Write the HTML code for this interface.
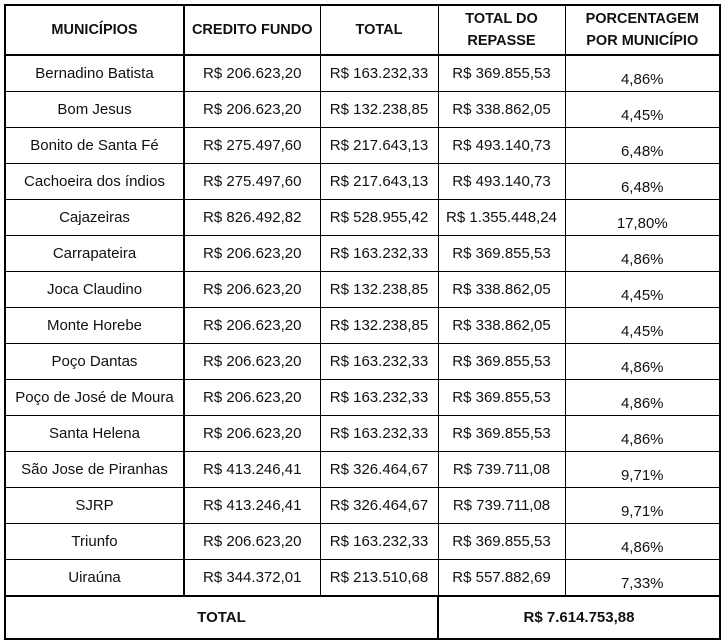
<!DOCTYPE html>
<html><head><meta charset="utf-8"><style>
body{margin:0;background:#fff;width:723px;height:641px;overflow:hidden;font-family:"Liberation Sans",sans-serif;}
table{position:absolute;left:4px;top:4px;border-collapse:collapse;table-layout:fixed;border:2.5px solid #000;}
td,th{border:1px solid #000;text-align:center;font-size:15px;padding:0;color:#111;white-space:nowrap;line-height:17px;}
th{font-weight:bold;font-size:14.5px;height:48px;border-bottom:2.5px solid #000;line-height:22px;}
td{height:35px;}
td.p{vertical-align:bottom;padding-bottom:3px;height:32px;}
tr.tot td{height:41px;border-top:2.5px solid #000;font-weight:bold;}
.c1{border-right:2px solid #000;}
</style></head><body>
<table>
<colgroup><col style="width:179px"><col style="width:136px"><col style="width:118px"><col style="width:127px"><col style="width:155px"></colgroup>
<thead><tr>
<th class="c1">MUNICÍPIOS</th>
<th>CREDITO FUNDO</th>
<th>TOTAL</th>
<th>TOTAL DO<br>REPASSE</th>
<th>PORCENTAGEM<br>POR MUNICÍPIO</th>
</tr></thead>
<tbody id="tb"></tbody>
</table>
<script>
const names=["Bernadino Batista","Bom Jesus","Bonito de Santa Fé","Cachoeira dos índios","Cajazeiras","Carrapateira","Joca Claudino","Monte Horebe","Poço Dantas","Poço de José de Moura","Santa Helena","São Jose de Piranhas","SJRP","Triunfo","Uiraúna"];
const credito=["206.623,20","206.623,20","275.497,60","275.497,60","826.492,82","206.623,20","206.623,20","206.623,20","206.623,20","206.623,20","206.623,20","413.246,41","413.246,41","206.623,20","344.372,01"];
const total=["163.232,33","132.238,85","217.643,13","217.643,13","528.955,42","163.232,33","132.238,85","132.238,85","163.232,33","163.232,33","163.232,33","326.464,67","326.464,67","163.232,33","213.510,68"];
const repasse=["369.855,53","338.862,05","493.140,73","493.140,73","1.355.448,24","369.855,53","338.862,05","338.862,05","369.855,53","369.855,53","369.855,53","739.711,08","739.711,08","369.855,53","557.882,69"];
const pct=["4,86%","4,45%","6,48%","6,48%","17,80%","4,86%","4,45%","4,45%","4,86%","4,86%","4,86%","9,71%","9,71%","4,86%","7,33%"];
const tb=document.getElementById('tb');
names.forEach((n,i)=>{
 const tr=document.createElement('tr');
 
 
 const vals=[n,"R$ "+credito[i],"R$ "+total[i],"R$ "+repasse[i],pct[i]];
 const nm=['municipio-name','credito-fundo-cell','total-cell','total-repasse-cell','porcentagem-cell'];
 vals.forEach((v,j)=>{
  const td=document.createElement('td');
  td.textContent=v;
  if(j===0)td.className='c1';
  if(j===4)td.className='p';
  
  
  tr.appendChild(td);
 });
 tb.appendChild(tr);
});
const tr=document.createElement('tr');tr.className='tot';


const a=document.createElement('td');a.colSpan=3;a.textContent='TOTAL';


const b=document.createElement('td');b.colSpan=2;b.textContent='R$ 7.614.753,88';b.style.borderLeft='2px solid #000';


tr.appendChild(a);tr.appendChild(b);tb.appendChild(tr);
</script>
</body></html>
